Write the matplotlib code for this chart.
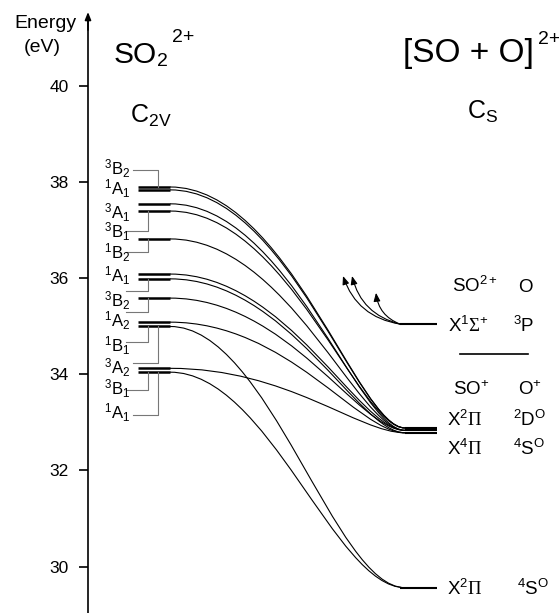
import numpy as np
import matplotlib
matplotlib.use('Agg')
import matplotlib.pyplot as plt
from matplotlib.path import Path
from matplotlib.patches import PathPatch

plt.rcParams['font.family'] = ['Liberation Sans', 'DejaVu Sans']
plt.rcParams['mathtext.fontset'] = 'custom'
plt.rcParams['mathtext.rm'] = 'Liberation Sans'
plt.rcParams['mathtext.it'] = 'Liberation Sans:italic'
plt.rcParams['mathtext.bf'] = 'Liberation Serif'

# ---------------- data ----------------
yticks = [30, 32, 34, 36, 38, 40]

# SO2(2+) C2v states (eV), top to bottom
left_energies = [37.89, 37.83, 37.54, 37.39, 36.81, 36.08, 35.98, 35.58, 35.08, 34.99, 34.12, 34.04]
# asymptote each state correlates with (eV)
left_targets = [32.88, 32.88, 32.83, 32.88, 32.83, 32.83, 32.78, 32.83, 32.78, 29.56, 32.78, 29.56]

left_labels = [r'$^{3}\mathrm{B}_{2}$', r'$^{1}\mathrm{A}_{1}$', r'$^{3}\mathrm{A}_{1}$',
               r'$^{3}\mathrm{B}_{1}$', r'$^{1}\mathrm{B}_{2}$', r'$^{1}\mathrm{A}_{1}$',
               r'$^{3}\mathrm{B}_{2}$', r'$^{1}\mathrm{A}_{2}$', r'$^{1}\mathrm{B}_{1}$',
               r'$^{3}\mathrm{A}_{2}$', r'$^{3}\mathrm{B}_{1}$', r'$^{1}\mathrm{A}_{1}$']
label_energies = [38.27, 37.85, 37.36, 36.97, 36.52, 36.04, 35.52, 35.10, 34.60, 34.13, 33.69, 33.19]

# label connectors: state index -> energy where connector meets label
conn_state = [0, 3, 4, 6, 7, 9, 9, 11, 11]
conn_energy = [38.24, 36.97, 36.54, 35.73, 35.29, 34.67, 34.23, 33.67, 33.15]
conn_col = [1, 0, 0, 0, 0, 0, 1, 0, 1]

# [SO + O]2+ asymptotes (eV)
cluster_energies = [32.88, 32.83, 32.78]      # SO+ X2Pi/X4Pi + O+ 2D/4S
so2p_energy = 35.04                            # SO2+ X1Sigma+ + O 3P
low_energy = 29.56                             # SO+ X2Pi + O+ 4S

arrow_tip_x = [343, 352, 376]
arrow_tip_E = [36.04, 36.04, 35.69]

# ---------------- layout ----------------
W, H = 559, 613
PX_PER_EV = 48.1
Y40 = 85.5
def E(py):
    return 40 - (py - Y40) / PX_PER_EV

AX_X = 88
LX0, LX1 = 138, 170
RX0, RX1 = 405, 437

fig = plt.figure(figsize=(W / 100, H / 100), dpi=100)
ax = fig.add_axes([0, 0, 1, 1])
ax.set_xlim(0, W)
ax.set_ylim(E(H), E(0))
for s in ['top', 'right', 'bottom']:
    ax.spines[s].set_visible(False)
ax.spines['left'].set_position(('data', AX_X))
ax.spines['left'].set_bounds(E(H), E(20))
ax.spines['left'].set_linewidth(1.2)
ax.set_xticks([])
ax.set_yticks(yticks)
ax.set_yticklabels([str(t) for t in yticks])
ax.tick_params(axis='y', direction='out', length=6.5, width=1.2, pad=7.5, labelsize=12.5)
ax.annotate('', xy=(AX_X, E(12)), xytext=(AX_X, E(30)),
            arrowprops=dict(arrowstyle='-|>,head_length=0.45,head_width=0.18', lw=1.2,
                            color='k', shrinkA=0, shrinkB=0))

ax.text(45, E(28), 'Energy', fontsize=14, ha='center', va='baseline')
ax.text(42, E(52), '(eV)', fontsize=14, ha='center', va='baseline')

# titles
ax.text(114, E(63), 'SO', fontsize=21.5, ha='left', va='baseline')
ax.text(157, E(66), '2', fontsize=14, ha='left', va='baseline')
ax.text(172, E(42), '2+', fontsize=14, ha='left', va='baseline')
ax.text(403, E(62), '[SO + O]', fontsize=24, ha='left', va='baseline')
ax.text(538, E(44), '2+', fontsize=14, ha='left', va='baseline')
ax.text(130, E(116 + 6.5), r'$\mathrm{C}_{\mathrm{2V}}$', fontsize=18, ha='left', va='baseline')
ax.text(467, E(112 + 6.5), r'$\mathrm{C}_{\mathrm{S}}$', fontsize=18, ha='left', va='baseline')

# left levels
ax.hlines(left_energies, LX0, LX1, colors='k', lw=1.8)

# correlation curves
for EL, ER in zip(left_energies, left_targets):
    dx = RX0 - LX1
    if ER < 31:
        a, b = 0.42, 0.3
    else:
        a, b = 0.5, 0.2
    verts = [(LX1, EL), (LX1 + a * dx, EL), (RX0 - b * dx, ER), (RX0, ER)]
    path = Path(verts, [Path.MOVETO, Path.CURVE4, Path.CURVE4, Path.CURVE4])
    ax.add_patch(PathPatch(path, fc='none', ec='k', lw=0.8))

# connectors
for si, ce, col in zip(conn_state, conn_energy, conn_col):
    xv = 148 if col == 0 else 158
    xl = 126 if col == 0 else 133
    ax.plot([xv, xv, xl], [left_energies[si], ce, ce], color='#777777', lw=0.8)

# labels
for lab, le in zip(left_labels, label_energies):
    ax.text(104, le - 6.0 / PX_PER_EV, lab, fontsize=12, ha='left', va='baseline')

# right levels
ax.hlines(cluster_energies, RX0, RX1, colors='k', lw=1.5)
ax.hlines([so2p_energy], RX0 - 5, RX1, colors='k', lw=1.5)
ax.hlines([low_energy], RX0 - 5, RX1, colors='k', lw=1.5)

for tx, tE in zip(arrow_tip_x, arrow_tip_E):
    ax.annotate('', xy=(tx, tE), xytext=(RX0 - 5, so2p_energy),
                arrowprops=dict(arrowstyle='-|>,head_length=0.5,head_width=0.2', lw=0.8,
                                color='k', shrinkA=0, shrinkB=0,
                                connectionstyle='arc3,rad=-0.3'))

# separator
ax.plot([460, 528], [E(354), E(354)], color='k', lw=1.2)

fs = 13.5
cap = 6.7
right_text = [
    (452, 285, r'$\mathrm{SO}^{2+}$'), (518, 285, r'$\mathrm{O}$'),
    (448, 325, r'$\mathrm{X}^{1}\mathbf{\Sigma}^{+}$'), (513, 325, r'$^{3}\mathrm{P}$'),
    (453, 388, r'$\mathrm{SO}^{+}$'), (518, 388, r'$\mathrm{O}^{+}$'),
    (447, 419, r'$\mathrm{X}^{2}\mathbf{\Pi}$'), (513, 419, r'$^{2}\mathrm{D}^{\mathrm{O}}$'),
    (447, 448, r'$\mathrm{X}^{4}\mathbf{\Pi}$'), (513, 448, r'$^{4}\mathrm{S}^{\mathrm{O}}$'),
    (447, 588, r'$\mathrm{X}^{2}\mathbf{\Pi}$'), (517, 588, r'$^{4}\mathrm{S}^{\mathrm{O}}$'),
]
for x, y, s in right_text:
    ax.text(x, E(y + cap), s, fontsize=fs, ha='left', va='baseline')

fig.savefig('out.png', dpi=100)
